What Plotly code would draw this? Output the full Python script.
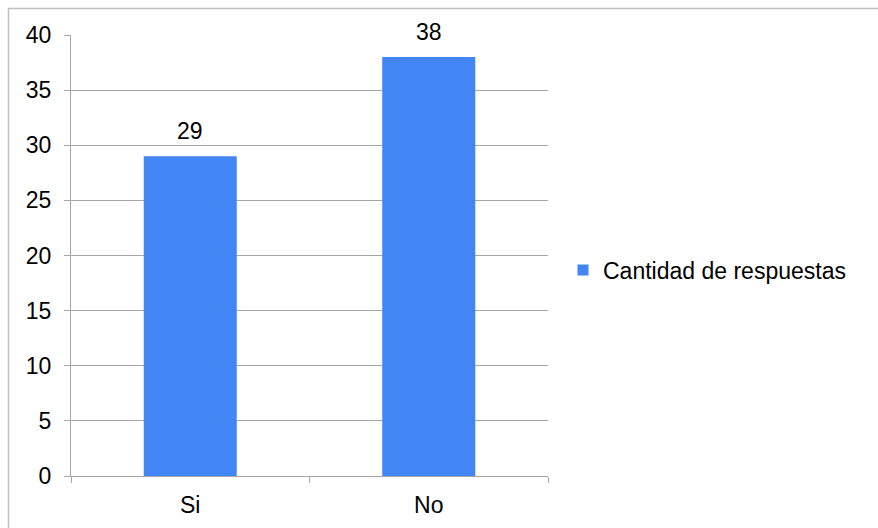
import plotly.graph_objects as go

categories = ["Si", "No"]
values = [29, 38]
series_name = "Cantidad de respuestas"
y_ticks = [0, 5, 10, 15, 20, 25, 30, 35, 40]

W, H = 878, 528
ML, MR, MT, MB = 71, 330, 35, 52
pw, ph = W - ML - MR, H - MT - MB
BAR_COLOR = "#4285F4"
FONT = "Liberation Sans, Arial"
FS = 23

fig = go.Figure()
fig.add_trace(go.Bar(
    x=categories, y=values, name=series_name,
    marker=dict(color=BAR_COLOR, line=dict(width=0)),
    width=0.39, showlegend=False,
))
# legend entry with a small square swatch
fig.add_trace(go.Scatter(
    x=[categories[0]], y=[None], mode="markers", name=series_name,
    marker=dict(symbol="square", size=11, color=BAR_COLOR), showlegend=True,
))

annotations = [
    dict(x=c, y=v, xref="x", yref="y", text=str(v), showarrow=False,
         yanchor="middle", yshift=25, font=dict(family=FONT, size=FS, color="#000"))
    for c, v in zip(categories, values)
]

gc = "#a6a6a6"
fig.update_layout(
    width=W, height=H,
    margin=dict(l=ML, r=MR, t=MT, b=MB, pad=0, autoexpand=False),
    paper_bgcolor="white", plot_bgcolor="white",
    font=dict(family=FONT, size=FS, color="#000000"),
    showlegend=True,
    legend=dict(x=(563 - ML) / pw, y=(476 - 270) / ph, xanchor="left", yanchor="middle",
                font=dict(size=FS), itemwidth=30, bgcolor="rgba(0,0,0,0)"),
    bargap=0.61,
    annotations=annotations,
    xaxis=dict(showgrid=False, showline=True, linecolor=gc, linewidth=1, automargin=False,
               ticks="outside", tickson="boundaries", ticklen=6, tickcolor=gc,
               tickfont=dict(size=FS), zeroline=False, ticklabelstandoff=8),
    yaxis=dict(range=[0, 40], tickvals=y_ticks, showgrid=True, gridcolor=gc, gridwidth=1,
               automargin=False,
               showline=True, linecolor=gc, linewidth=1, ticks="outside", ticklen=6,
               tickcolor=gc, tickfont=dict(size=FS), zeroline=False, ticklabelstandoff=8),
    shapes=[dict(type="rect", xref="paper", yref="paper",
                 x0=(8.5 - ML) / pw, x1=(W + 5 - ML) / pw,
                 y0=(H - MB - (H + 5)) / ph, y1=(H - MB - 8.5) / ph,
                 line=dict(color="#bfbfbf", width=1.5), layer="below")],
)

fig.write_html("out.html")
